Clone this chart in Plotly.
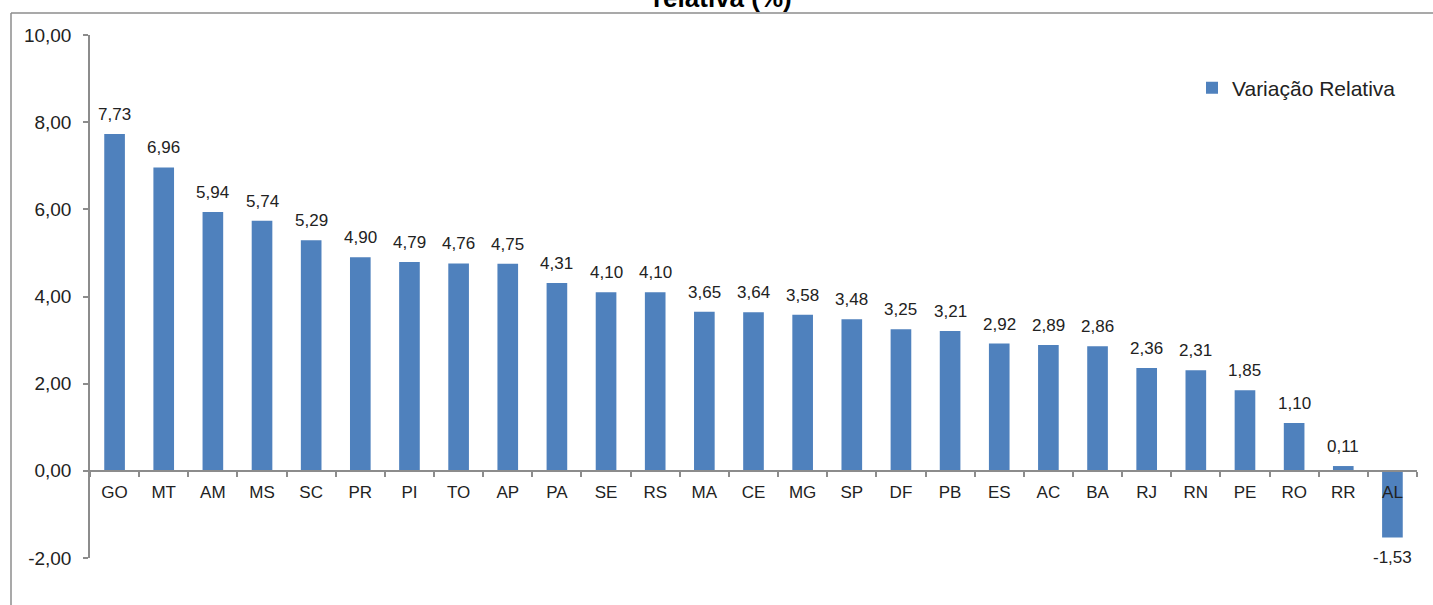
import plotly.graph_objects as go

categories = ["GO", "MT", "AM", "MS", "SC", "PR", "PI", "TO", "AP", "PA", "SE", "RS", "MA", "CE",
              "MG", "SP", "DF", "PB", "ES", "AC", "BA", "RJ", "RN", "PE", "RO", "RR", "AL"]
values = [7.73, 6.96, 5.94, 5.74, 5.29, 4.90, 4.79, 4.76, 4.75, 4.31, 4.10, 4.10, 3.65, 3.64,
          3.58, 3.48, 3.25, 3.21, 2.92, 2.89, 2.86, 2.36, 2.31, 1.85, 1.10, 0.11, -1.53]
series_name = "Variação Relativa"
title_text = "relativa (%)"
y_ticks = [-2, 0, 2, 4, 6, 8, 10]
y_tick_labels = ["-2,00", "0,00", "2,00", "4,00", "6,00", "8,00", "10,00"]

FONT = "Liberation Sans, Arial, sans-serif"
BAR = "#4F81BD"
AXIS = "#8c8c8c"
TXT = "#222222"

# body margin is removed by post_script, so figure coords = screen coords
OFF = 0
W, H = 1433 - 2 * OFF, 605 - 2 * OFF
ml, mt = 90 - OFF, 35 - OFF
plot_w, plot_h = 1327, 523
mr = W - ml - plot_w
mb = H - mt - plot_h
pb = mt + plot_h  # plot bottom in figure px


def px_x(sx):
    return (sx - OFF - ml) / plot_w


def px_y(sy):
    return (pb - (sy - OFF)) / plot_h


fig = go.Figure()
fig.add_trace(go.Bar(x=categories, y=values, name=series_name, marker=dict(color=BAR, line=dict(width=0)),
                     showlegend=True))

annotations = []
for c, v in zip(categories, values):
    lab = f"{v:.2f}".replace(".", ",")
    if v >= 0:
        annotations.append(dict(x=c, y=v, xref="x", yref="y", text=lab, showarrow=False,
                                yanchor="bottom", yshift=8, font=dict(family=FONT, size=17, color=TXT)))
    else:
        annotations.append(dict(x=c, y=v, xref="x", yref="y", text=lab, showarrow=False,
                                yanchor="top", yshift=-8, font=dict(family=FONT, size=17, color=TXT)))

# partial title (cut off at top)
annotations.append(dict(x=px_x(722), y=px_y(15), xref="paper", yref="paper",
                        text=f"<b>{title_text}</b>", showarrow=False, xanchor="center", yanchor="bottom",
                        font=dict(family=FONT, size=26, color="#000000")))

zero_pos = 2 / 12  # fraction of y-range below zero

fig.update_layout(
    width=W, height=H,
    margin=dict(l=ml, r=mr, t=mt, b=mb, autoexpand=False),
    paper_bgcolor="white", plot_bgcolor="white",
    separators=",.",
    bargap=0.58,
    font=dict(family=FONT, color=TXT),
    annotations=annotations,
    legend=dict(x=px_x(1192), y=px_y(88), xanchor="left", yanchor="middle",
                font=dict(family=FONT, size=21, color=TXT), bgcolor="rgba(0,0,0,0)"),
    shapes=[
        dict(type="line", xref="paper", yref="paper", x0=px_x(11), x1=px_x(11), y0=px_y(13), y1=px_y(610),
             line=dict(color=AXIS, width=1.5), layer="below"),
        dict(type="line", xref="paper", yref="paper", x0=px_x(11), x1=px_x(1440), y0=px_y(13), y1=px_y(13),
             line=dict(color=AXIS, width=1.5), layer="below"),
    ],
    xaxis=dict(anchor="free", position=zero_pos, showline=True, linecolor=AXIS, linewidth=1.5,
               ticks="outside", ticklen=5, tickcolor=AXIS, tickwidth=1.5, tickson="boundaries",
               showgrid=False, tickfont=dict(family=FONT, size=17, color=TXT), zeroline=False,
               automargin=False, ticklabelstandoff=6),
    yaxis=dict(range=[-2, 10], tickvals=y_ticks, ticktext=y_tick_labels, showline=True, linecolor=AXIS,
               linewidth=1.5, ticks="outside", ticklen=5, tickcolor=AXIS, tickwidth=1.5, showgrid=False,
               zeroline=False, tickfont=dict(family=FONT, size=19, color=TXT), automargin=False,
               ticklabelstandoff=8),
)

fig.write_html("out.html", config={"displayModeBar": False},
               post_script="document.body.style.margin='0';document.body.style.overflow='hidden';")
